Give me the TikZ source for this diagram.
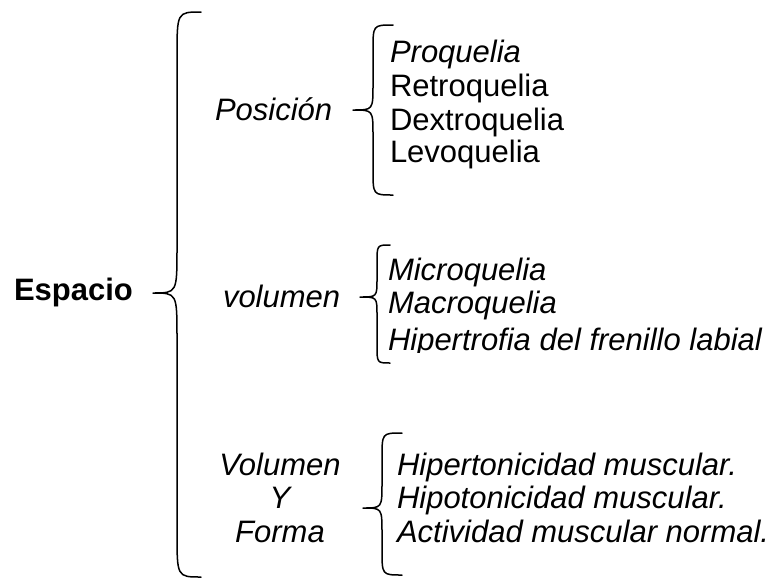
\documentclass[tikz,border=0pt]{standalone}
\usepackage{fontspec}
\setmainfont{Liberation Sans}
\begin{document}
\begin{tikzpicture}[x=1pt,y=-1pt,
  lbl/.style={inner sep=0pt,outer sep=0pt,font=\fontsize{31}{34}\selectfont,anchor=base west},
  ilbl/.style={lbl,font=\fontsize{31}{34}\selectfont\itshape},
  bline/.style={line width=1.5pt,line cap=round,line join=round}]
\useasboundingbox (0,0) rectangle (777,579);
\newcommand\mybrace[7]{% xe xv xt ytop ytip ybot rv
  \draw[bline] (#1,#4) .. controls (#2,#4) .. (#2,#4+#7) -- (#2,#5-#7)
     .. controls (#2,#5) .. (#3,#5) .. controls (#2,#5) .. (#2,#5+#7)
     -- (#2,#6-#7) .. controls (#2,#6) .. (#1,#6);}
% big brace
\mybrace{201}{177}{153}{12}{293}{577}{45}
\node[lbl,font=\fontsize{31}{34}\selectfont\bfseries] (esp) at (14,300) {Espacio};
% group 1
\node[ilbl] (pos) at (215,120) {Posición};
\mybrace{393}{373}{353}{25}{110}{195}{25}
\node[ilbl] (p1) at (390,62) {Proquelia};
\node[lbl] (p2) at (390,96) {Retroquelia};
\node[lbl] (p3) at (390,130) {Dextroquelia};
\node[lbl] (p4) at (390,162) {Levoquelia};
% group 2
\node[ilbl] (vol) at (223,307) {volumen};
\mybrace{390}{377}{360}{245}{297}{363}{18}
\node[ilbl] (v1) at (388,280) {Microquelia};
\node[ilbl] (v2) at (388,313) {Macroquelia};
\begin{scope}
\clip (0,0) rectangle (777,352);
\node[ilbl] (v3) at (388,350) {Hipertrofia del frenillo labial};
\end{scope}
% group 3
\node[ilbl,anchor=base] (vf1) at (280,475) {Volumen};
\node[ilbl,anchor=base] (vf2) at (280,508) {Y};
\node[ilbl,anchor=base] (vf3) at (280,542) {Forma};
\mybrace{402}{382}{363}{433}{508}{575}{25}
\node[ilbl] (f1) at (397,475) {Hipertonicidad muscular.};
\node[ilbl] (f2) at (397,508) {Hipotonicidad muscular.};
\node[ilbl] (f3) at (397,542) {Actividad muscular normal.};
\end{tikzpicture}
\end{document}
